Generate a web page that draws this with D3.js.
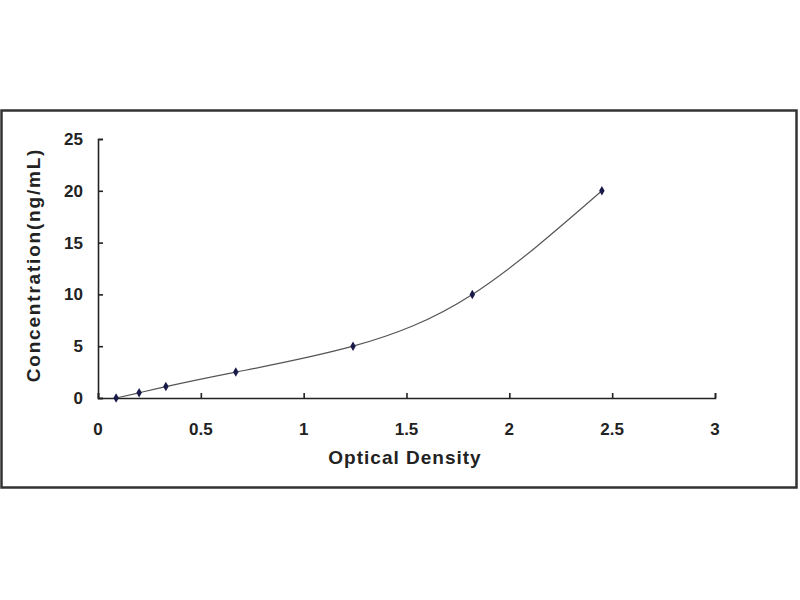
<!DOCTYPE html>
<html>
<head>
<meta charset="utf-8">
<script src="https://cdn.jsdelivr.net/npm/d3@7"></script>
<style>
  body { margin: 0; background: #fff; }
  text { font-family: "Liberation Sans", Arial, sans-serif; font-weight: bold; fill: #222; }
</style>
</head>
<body>
<div id="chart-area"></div>
<script>
// standard curve readings
var od = [0.088, 0.2, 0.33, 0.67, 1.24, 1.82, 2.45];
var conc = [0, 0.5, 1.1, 2.5, 5, 10, 20];
var xTicks = [0, 0.5, 1, 1.5, 2, 2.5, 3];
var yTicks = [0, 5, 10, 15, 20, 25];

var data = od.map((d, i) => { return {x: d, y: conc[i]}; });

var svg = d3.select("#chart-area").append("svg")
	.attr("width", 800)
	.attr("height", 600);

// outer frame
svg.append("rect")
	.attr("x", 1.5).attr("y", 110.5)
	.attr("width", 795).attr("height", 377)
	.attr("fill", "#fff")
	.attr("stroke", "#333")
	.attr("stroke-width", 2.5);

var x = d3.scaleLinear().domain([0, 3]).range([98, 715]);
var y = d3.scaleLinear().domain([0, 25]).range([398, 139]);

// axes, ticks pointing inward
svg.append("g")
	.attr("transform", "translate(0,398)")
	.call(d3.axisTop(x).tickValues(xTicks).tickSize(5).tickFormat(""))
	.call(g => g.selectAll("path, line").attr("stroke", "#222").attr("stroke-width", 1.6));
svg.append("g")
	.attr("transform", "translate(98,0)")
	.call(d3.axisRight(y).tickValues(yTicks).tickSize(5).tickFormat(""))
	.call(g => g.selectAll("path, line").attr("stroke", "#222").attr("stroke-width", 1.6));

svg.selectAll(".xlab").data(xTicks).enter().append("text")
	.attr("class", "xlab")
	.attr("x", d => x(d))
	.attr("y", 435)
	.attr("text-anchor", "middle")
	.attr("font-size", "17px")
	.text(d => d);

svg.selectAll(".ylab").data(yTicks).enter().append("text")
	.attr("class", "ylab")
	.attr("x", 83)
	.attr("y", d => y(d) + 6)
	.attr("text-anchor", "end")
	.attr("font-size", "17px")
	.text(d => d);

svg.append("text")
	.attr("x", 405)
	.attr("y", 464)
	.attr("text-anchor", "middle")
	.attr("font-size", "19px")
	.attr("letter-spacing", "1px")
	.text("Optical Density");

svg.append("text")
	.attr("transform", "translate(40,265) rotate(-90)")
	.attr("text-anchor", "middle")
	.attr("font-size", "19px")
	.attr("letter-spacing", "1.8px")
	.text("Concentration(ng/mL)");

// fitted curve
var line = d3.line()
	.x(d => x(d.x))
	.y(d => y(d.y))
	.curve(d3.curveNatural);
svg.append("path")
	.datum(data)
	.attr("d", line)
	.attr("fill", "none")
	.attr("stroke", "#555")
	.attr("stroke-width", 1.2);

// points
svg.selectAll(".pt").data(data).enter().append("path")
	.attr("class", "pt")
	.attr("transform", d => "translate(" + x(d.x) + "," + y(d.y) + ")")
	.attr("d", d3.symbol(d3.symbolDiamond, 26))
	.attr("fill", "#1a1a4a");
</script>
</body>
</html>
